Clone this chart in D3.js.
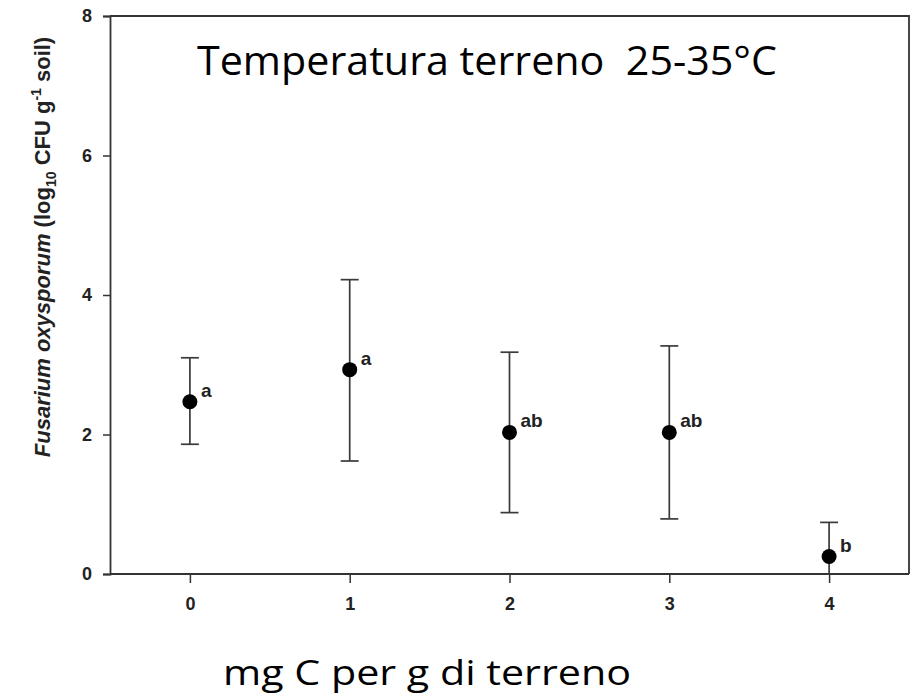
<!DOCTYPE html>
<html><head><meta charset="utf-8">
<script src="https://cdn.jsdelivr.net/npm/d3@7"></script>
<style>
html,body{margin:0;padding:0;background:#fff;}
svg{display:block;}
</style>
</head><body>
<svg id="chart" width="915" height="696"></svg>
<script>
// ---- data ----
const categories = [0, 1, 2, 3, 4];
const means      = [2.47, 2.93, 2.03, 2.03, 0.25];
const upperVals  = [3.10, 4.22, 3.18, 3.27, 0.74];
const lowerVals  = [1.86, 1.62, 0.88, 0.79, -0.24];
const letters    = ["a", "a", "ab", "ab", "b"];
const yTicks     = [0, 2, 4, 6, 8];
const xTicks     = [0, 1, 2, 3, 4];
const titleText  = "Temperatura terreno\u00a0\u00a025-35°C";
const xTitle     = "mg C per g di terreno";

// ---- layout ----
const svg = d3.select("#chart");
const L = 110, R = 909, T = 16, B = 574;
const x = d3.scaleLinear().domain([-0.5, 4.5]).range([L, R]);
const y = d3.scaleLinear().domain([0, 8]).range([B, T]);
const axisColor = "#333";
const font = "Liberation Sans, Arial, sans-serif";

svg.append("defs").append("clipPath").attr("id", "plotclip")
  .append("rect").attr("x", L).attr("y", T).attr("width", R - L).attr("height", B - T);

// frame (top and right)
svg.append("path")
  .attr("d", `M${L},${T}H${R}V${B}`)
  .attr("fill", "none").attr("stroke", axisColor).attr("stroke-width", 1.8);

// y axis
const yAxis = d3.axisLeft(y).tickValues(yTicks).tickSize(7).tickPadding(11).tickFormat(d3.format("d"));
const gy = svg.append("g").attr("transform", `translate(${L},0)`).call(yAxis);
gy.select(".domain").attr("stroke", axisColor).attr("stroke-width", 1.8);
gy.selectAll(".tick line").attr("stroke", axisColor).attr("stroke-width", 1.5);
gy.selectAll(".tick text")
  .attr("font-family", font).attr("font-weight", "bold").attr("font-size", 18).attr("fill", "#222");

// x axis
const xAxis = d3.axisBottom(x).tickValues(xTicks).tickSize(9).tickPadding(14).tickFormat(d3.format("d"));
const gx = svg.append("g").attr("transform", `translate(0,${B})`).call(xAxis);
gx.select(".domain").attr("stroke", axisColor).attr("stroke-width", 1.8)
  .attr("d", `M${L},0H${R}`);
gx.selectAll(".tick line").attr("stroke", axisColor).attr("stroke-width", 1.5);
gx.selectAll(".tick text")
  .attr("font-family", font).attr("font-weight", "bold").attr("font-size", 18).attr("fill", "#222");

// error bars
const data = categories.map((c, i) => ({c, m: means[i], hi: upperVals[i], lo: lowerVals[i], lab: letters[i]}));
const plot = svg.append("g").attr("clip-path", "url(#plotclip)");
const capW = 9;
const eb = plot.selectAll("g.eb").data(data).join("g").attr("class", "eb");
eb.append("line")
  .attr("x1", d => x(d.c)).attr("x2", d => x(d.c))
  .attr("y1", d => y(d.hi)).attr("y2", d => y(d.lo))
  .attr("stroke", "#3a3a3a").attr("stroke-width", 1.7);
eb.append("line")
  .attr("x1", d => x(d.c) - capW).attr("x2", d => x(d.c) + capW)
  .attr("y1", d => y(d.hi)).attr("y2", d => y(d.hi))
  .attr("stroke", "#3a3a3a").attr("stroke-width", 1.7);
eb.filter(d => d.lo >= 0).append("line")
  .attr("x1", d => x(d.c) - capW).attr("x2", d => x(d.c) + capW)
  .attr("y1", d => y(d.lo)).attr("y2", d => y(d.lo))
  .attr("stroke", "#3a3a3a").attr("stroke-width", 1.7);

// points
svg.selectAll("circle.pt").data(data).join("circle").attr("class", "pt")
  .attr("cx", d => x(d.c)).attr("cy", d => y(d.m)).attr("r", 7.5).attr("fill", "#000");

// letters
svg.selectAll("text.lab").data(data).join("text").attr("class", "lab")
  .attr("x", d => x(d.c) + 11).attr("y", d => y(d.m) - 5)
  .attr("font-family", font).attr("font-weight", "bold").attr("font-size", 19).attr("fill", "#222")
  .text(d => d.lab);

// y axis title
const yt = svg.append("text")
  .attr("transform", "translate(50,247) rotate(-90)")
  .attr("text-anchor", "middle")
  .attr("font-family", font).attr("font-weight", "bold").attr("font-size", 22).attr("fill", "#222");
yt.append("tspan").attr("font-style", "italic").text("Fusarium oxysporum");
yt.append("tspan").text(" (log");
yt.append("tspan").attr("font-size", 14).attr("dy", 6).text("10");
yt.append("tspan").attr("dy", -6).text(" CFU g");
yt.append("tspan").attr("font-size", 14).attr("dy", -9).text("-1");
yt.append("tspan").attr("dy", 9).text(" soil)");

// chart title (overlay)
svg.append("text")
  .attr("x", 197).attr("y", 75)
  .attr("font-family", "Open Sans, Noto Sans, sans-serif")
  .attr("font-size", 40).attr("fill", "#000")
  .attr("textLength", 580).attr("lengthAdjust", "spacingAndGlyphs")
  .text(titleText);

// x axis title
svg.append("text")
  .attr("x", 223).attr("y", 685)
  .attr("font-family", "Open Sans, Noto Sans, sans-serif")
  .attr("font-size", 35).attr("fill", "#000")
  .attr("textLength", 408).attr("lengthAdjust", "spacingAndGlyphs")
  .text(xTitle);
</script>
</body></html>
